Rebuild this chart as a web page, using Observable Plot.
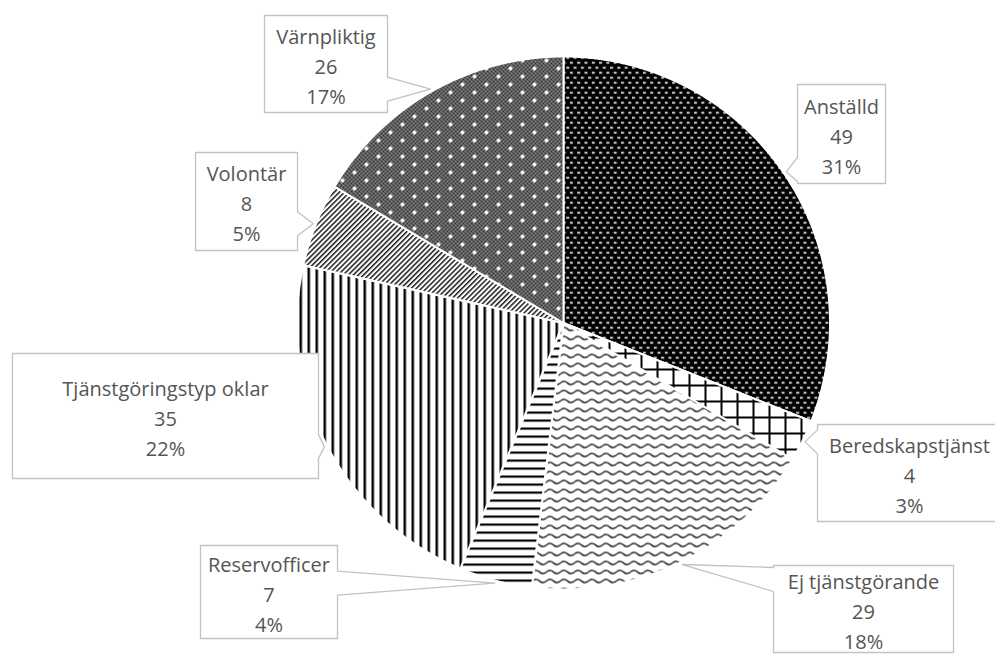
<!DOCTYPE html>
<html><head><meta charset="utf-8">
<script src="https://cdn.jsdelivr.net/npm/d3@7"></script>
<script src="https://cdn.jsdelivr.net/npm/@observablehq/plot@0.6"></script>
<style>html,body{margin:0;padding:0;background:#fff;overflow:hidden}</style>
</head><body><div id="chart"></div>
<script>
// ---- data ----
const categories = ["Anställd","Beredskapstjänst","Ej tjänstgörande","Reservofficer","Tjänstgöringstyp oklar","Volontär","Värnpliktig"];
const counts = [49, 4, 29, 7, 35, 8, 26];
const percentLabels = ["31%", "3%", "18%", "4%", "22%", "5%", "17%"];

// ---- layout (pixels): callout boxes [left, top, right, bottom] ----
const labelBoxes = [
  [797, 84, 885, 183],
  [817, 424, 1001, 521],
  [773, 565, 953, 652],
  [200, 545, 337, 638],
  [12, 353, 318, 478],
  [195, 152, 297, 250],
  [264, 15, 387, 112]
];
const patternIds = ["pA", "pB", "pC", "pD", "pE", "pF", "pG"];

const xOpts = {domain: [-1, 1], range: [296.5, 829.5], axis: null};
const yOpts = {domain: [-1, 1], range: [589, 56], axis: null};
const xs = Plot.scale({x: xOpts});
const ys = Plot.scale({y: yOpts});

// slices from d3.pie angles (clockwise from top)
const arcs = d3.pie().sort(null).startAngle(0).endAngle(2 * Math.PI)(counts);
const sliceRows = [];
arcs.forEach((a, i) => {
  const name = categories[i];
  sliceRows.push({name, x: 0, y: 0});
  const n = Math.max(4, Math.ceil((a.endAngle - a.startAngle) / 0.005));
  for (let k = 0; k <= n; k++) {
    const t = a.startAngle + (a.endAngle - a.startAngle) * k / n;
    sliceRows.push({name, x: Math.sin(t), y: Math.cos(t)});
  }
});

// callout boxes with wedge pointing at slice mid-angle
const boxRows = [];
const textRows = [];
arcs.forEach((a, i) => {
  const name = categories[i];
  const mid = (a.startAngle + a.endAngle) / 2;
  const tip = [xs.apply(Math.sin(mid) * 1.01), ys.apply(Math.cos(mid) * 1.01)];
  const [L, T, R, B] = labelBoxes[i];
  const hw = 12, m = 14;
  const clamp = (v, lo, hi) => Math.max(lo, Math.min(hi, v));
  let pts;
  if (tip[0] < L) {
    const c = clamp(tip[1], T + m, B - m);
    pts = [[L, T], [R, T], [R, B], [L, B], [L, c + hw], tip, [L, c - hw]];
  } else if (tip[0] > R) {
    const c = clamp(tip[1], T + m, B - m);
    pts = [[L, T], [R, T], [R, c - hw], tip, [R, c + hw], [R, B], [L, B]];
  } else if (tip[1] < T) {
    const c = clamp(tip[0], L + m, R - m);
    pts = [[L, T], [c - hw, T], tip, [c + hw, T], [R, T], [R, B], [L, B]];
  } else {
    const c = clamp(tip[0], L + m, R - m);
    pts = [[L, T], [R, T], [R, B], [c + hw, B], tip, [c - hw, B], [L, B]];
  }
  pts.forEach(p => boxRows.push({name, x: xs.invert(p[0]), y: ys.invert(p[1])}));
  textRows.push({
    name,
    x: xs.invert((L + R) / 2),
    y: ys.invert((T + B) / 2),
    label: `${name}\n${counts[i]}\n${percentLabels[i]}`
  });
});

const svg = Plot.plot({
  width: 995,
  height: 654,
  margin: 0,
  x: xOpts,
  y: yOpts,
  color: {type: "ordinal", domain: categories, range: patternIds.map(id => `url(#${id})`), legend: false},
  style: {background: "#fff"},
  marks: [
    Plot.line(sliceRows, {x: "x", y: "y", z: "name", fill: "name", stroke: "#fff", strokeWidth: 2, strokeLinejoin: "round", curve: "linear-closed"}),
    Plot.line(boxRows, {x: "x", y: "y", z: "name", fill: "#fff", stroke: "#c2c2c2", strokeWidth: 1.3, curve: "linear-closed"}),
    Plot.text(textRows, {x: "x", y: "y", text: "label", fill: "#555", fontSize: 20, lineHeight: 1.5, fontFamily: "'Open Sans', sans-serif"})
  ]
});

svg.insertAdjacentHTML("afterbegin", `
<defs>
  <pattern id="pA" patternUnits="userSpaceOnUse" width="7.3" height="10">
    <rect width="7.3" height="10" fill="#000"/>
    <rect x="0" y="1.5" width="3" height="1.6" fill="#fff"/>
    <rect x="3.65" y="6.5" width="3" height="1.6" fill="#fff"/>
  </pattern>
  <pattern id="pB" patternUnits="userSpaceOnUse" width="16" height="16">
    <rect width="16" height="16" fill="#fff"/>
    <rect width="16" height="2" fill="#000"/>
    <rect width="2" height="16" fill="#000"/>
  </pattern>
  <pattern id="pC" patternUnits="userSpaceOnUse" width="14" height="9">
    <rect width="14" height="9" fill="#fff"/>
    <path d="M0,4.5 Q3.5,1.2 7,4.5 T14,4.5" fill="none" stroke="#000" stroke-width="1.3"/>
  </pattern>
  <pattern id="pD" patternUnits="userSpaceOnUse" width="8" height="8">
    <rect width="8" height="8" fill="#fff"/>
    <rect y="3" width="8" height="2.2" fill="#000"/>
  </pattern>
  <pattern id="pE" patternUnits="userSpaceOnUse" width="8" height="8">
    <rect width="8" height="8" fill="#fff"/>
    <rect x="3" width="2.5" height="8" fill="#000"/>
  </pattern>
  <pattern id="pF" patternUnits="userSpaceOnUse" width="3.6" height="8" patternTransform="rotate(45)">
    <rect width="3.6" height="8" fill="#fff"/>
    <rect width="1.5" height="8" fill="#1a1a1a"/>
  </pattern>
  <pattern id="chk" patternUnits="userSpaceOnUse" width="4" height="4">
    <rect width="4" height="4" fill="#858585"/>
    <rect width="2" height="2" fill="#363636"/>
    <rect x="2" y="2" width="2" height="2" fill="#363636"/>
  </pattern>
  <pattern id="pG" patternUnits="userSpaceOnUse" width="24" height="16">
    <rect width="24" height="16" fill="url(#chk)"/>
    <rect x="4" y="3" width="4" height="2" fill="#fff"/>
    <rect x="5" y="2" width="2" height="4" fill="#fff"/>
    <rect x="16" y="11" width="4" height="2" fill="#fff"/>
    <rect x="17" y="10" width="2" height="4" fill="#fff"/>
  </pattern>
</defs>`);

document.getElementById("chart").appendChild(svg);
</script>
</body></html>
